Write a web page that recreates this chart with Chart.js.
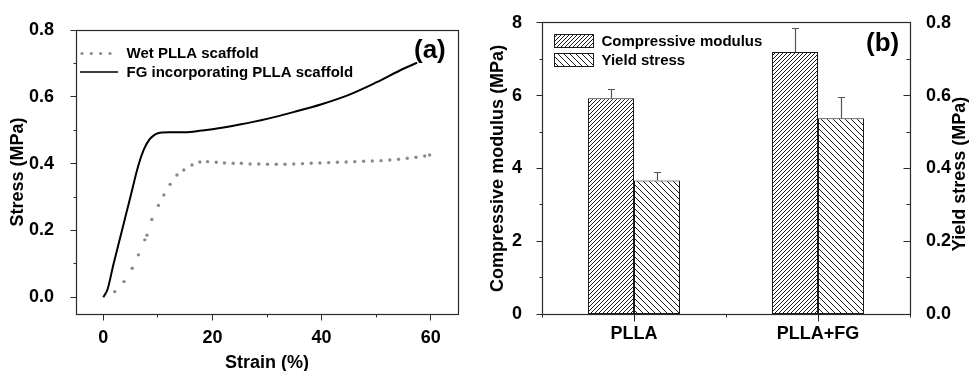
<!DOCTYPE html>
<html><head><meta charset="utf-8">
<script src="https://cdn.jsdelivr.net/npm/chart.js@4.4.1/dist/chart.umd.min.js"></script>
<style>
html,body{margin:0;padding:0;background:#fff;width:969px;height:371px;overflow:hidden}
canvas{position:absolute;top:0}
#ca{left:0}
#cb{left:480px}
</style></head><body>
<canvas id="ca" width="480" height="371"></canvas>
<canvas id="cb" width="489" height="371"></canvas>
<script>
// ---------- Data: panel (a) stress-strain curves ----------
const fgStrain  = [0, 0.8, 1.77, 3.3, 4.83, 6.36, 7.4, 8.4, 9.2, 10, 12, 15, 18, 20, 25, 30, 35, 40, 45, 50, 55, 57.5];
const fgStress  = [0, 0.025, 0.092, 0.192, 0.291, 0.391, 0.441, 0.471, 0.484, 0.491, 0.494, 0.494, 0.499, 0.503, 0.517, 0.534, 0.555, 0.578, 0.606, 0.643, 0.684, 0.702];
const wetStrain = [2.1, 3.8, 5.3, 6.45, 7.6, 8.0, 8.9, 10.1, 11.1, 12.25, 13.5, 14.75, 16.25, 17.7, 19.1, 20.7, 22.2, 23.8, 25.3, 26.9, 28.5, 30.1, 31.7, 33.3, 34.9, 36.5, 38.1, 39.7, 41.3, 42.9, 44.5, 46.1, 47.7, 49.3, 50.9, 52.5, 54.1, 55.7, 57.3, 58.9, 59.8];
const wetStress = [0.017, 0.047, 0.087, 0.127, 0.172, 0.186, 0.233, 0.275, 0.306, 0.338, 0.366, 0.381, 0.396, 0.405, 0.406, 0.404, 0.402, 0.401, 0.401, 0.399, 0.399, 0.398, 0.398, 0.398, 0.399, 0.400, 0.401, 0.402, 0.403, 0.404, 0.405, 0.406, 0.407, 0.408, 0.409, 0.411, 0.413, 0.416, 0.419, 0.423, 0.426];
const strainTicks = [0, 20, 40, 60];
const strainMinor = [10, 30, 50];
const stressTicks = [0, 0.2, 0.4, 0.6, 0.8];
const stressMinor = [0.1, 0.3, 0.5, 0.7];

// ---------- Data: panel (b) bars ----------
const groups      = ['PLLA', 'PLLA+FG'];
const modulus     = [5.93, 7.20];
const modulusErr  = [0.23, 0.63];
const yieldStress = [0.367, 0.538];
const yieldErr    = [0.022, 0.056];
const modulusTicks = [0, 2, 4, 6, 8];
const modulusMinor = [1, 3, 5, 7];
const yieldTicks   = [0, 0.2, 0.4, 0.6, 0.8];
const yieldMinor   = [0.1, 0.3, 0.5, 0.7];

const FONT = '"Liberation Sans", Arial, Helvetica, sans-serif';
const AXIS = '#2a2a2a';
Chart.defaults.font.family = FONT;
Chart.defaults.font.weight = 'bold';
Chart.defaults.color = '#000';

function snap(v){ return Math.round(v - 0.5) + 0.5; }

function hatch(ctx, size, dir) {
  const c = document.createElement('canvas');
  c.width = c.height = size;
  const g = c.getContext('2d');
  g.fillStyle = '#fff'; g.fillRect(0, 0, size, size);
  g.strokeStyle = '#1a1a1a'; g.lineWidth = 1;
  g.beginPath();
  if (dir > 0) {
    g.moveTo(0, size); g.lineTo(size, 0);
    g.moveTo(-1, 1); g.lineTo(1, -1);
    g.moveTo(size - 1, size + 1); g.lineTo(size + 1, size - 1);
  } else {
    g.moveTo(0, 0); g.lineTo(size, size);
    g.moveTo(-1, size - 1); g.lineTo(1, size + 1);
    g.moveTo(size - 1, -1); g.lineTo(size + 1, 1);
  }
  g.stroke();
  return ctx.createPattern(c, 'repeat');
}

// draws frame and major/minor tick marks from scale values
function frameTicks(specs) {
  return {
    id: 'frameTicks',
    afterDraw(chart) {
      const {ctx, chartArea: a} = chart;
      ctx.save();
      ctx.strokeStyle = AXIS; ctx.lineWidth = 1.2;
      const L = snap(a.left), R = snap(a.right), T = snap(a.top), B = snap(a.bottom);
      ctx.strokeRect(L, T, R - L, B - T);
      ctx.lineWidth = 1;
      specs.forEach(s => {
        const sc = chart.scales[s.scale];
        s.values.forEach(v => {
          const p = snap(sc.getPixelForValue(v));
          ctx.beginPath();
          if (s.side === 'left')  { ctx.moveTo(L, p); ctx.lineTo(L + s.dir * s.len, p); }
          if (s.side === 'right') { ctx.moveTo(R, p); ctx.lineTo(R + s.dir * s.len, p); }
          if (s.side === 'bottom'){ ctx.moveTo(p, B); ctx.lineTo(p, B + s.dir * s.len); }
          ctx.stroke();
        });
      });
      ctx.restore();
    }
  };
}

// ---------- Chart (a) ----------
const ctxA = document.getElementById('ca').getContext('2d');
const legendA = {
  id: 'legendA',
  afterDraw(chart) {
    const ctx = chart.ctx;
    ctx.save();
    ctx.fillStyle = '#8a8a8a';
    [82, 91.3, 100.6, 110].forEach(x => { ctx.beginPath(); ctx.arc(x, 53.5, 1.6, 0, Math.PI * 2); ctx.fill(); });
    ctx.strokeStyle = '#000'; ctx.lineWidth = 1.4;
    ctx.beginPath(); ctx.moveTo(80, 72); ctx.lineTo(118, 72); ctx.stroke();
    ctx.fillStyle = '#000';
    ctx.font = 'bold 15px ' + FONT;
    ctx.textAlign = 'left'; ctx.textBaseline = 'middle';
    ctx.fillText('Wet PLLA scaffold', 126.5, 54);
    ctx.fillText('FG incorporating PLLA scaffold', 126.5, 73);
    ctx.font = 'bold 26px ' + FONT;
    ctx.fillText('(a)', 414, 51);
    ctx.restore();
  }
};

new Chart(ctxA, {
  type: 'scatter',
  data: {
    datasets: [
      {
        label: 'FG incorporating PLLA scaffold',
        data: fgStrain.map((x, i) => ({x, y: fgStress[i]})),
        showLine: true, borderColor: '#000', borderWidth: 2, pointRadius: 0,
        cubicInterpolationMode: 'monotone', fill: false
      },
      {
        label: 'Wet PLLA scaffold',
        data: wetStrain.map((x, i) => ({x, y: wetStress[i]})),
        showLine: false, pointRadius: 1.7, pointBackgroundColor: '#8a8a8a',
        pointBorderWidth: 0, backgroundColor: '#8a8a8a'
      }
    ]
  },
  options: {
    responsive: false, animation: false, devicePixelRatio: 1,
    layout: {padding: {top: 30, right: 22, left: 0, bottom: 0}},
    plugins: {legend: {display: false}, tooltip: {enabled: false}},
    scales: {
      x: {
        type: 'linear', min: -5, max: 65,
        afterBuildTicks(s) { s.ticks = strainTicks.map(v => ({value: v})); },
        afterFit(s) { s.height = 57; },
        grid: {display: false}, border: {display: false},
        ticks: {padding: 5.5, maxRotation: 0, autoSkip: false, font: {size: 18, weight: 'bold'}, color: '#000', callback: v => String(v)},
        title: {display: true, text: 'Strain (%)', font: {size: 18, weight: 'bold'}, color: '#000', padding: {top: 0, bottom: -3}}
      },
      y: {
        type: 'linear', min: -0.05, max: 0.8,
        afterBuildTicks(s) { s.ticks = stressTicks.map(v => ({value: v})); },
        afterFit(s) { s.width = 76; },
        grid: {display: false}, border: {display: false},
        ticks: {padding: 14, autoSkip: false, font: {size: 18, weight: 'bold'}, color: '#000', callback: v => v.toFixed(1)},
        title: {display: true, text: 'Stress (MPa)', font: {size: 18, weight: 'bold'}, color: '#000', padding: {top: 7, bottom: 0}}
      }
    }
  },
  plugins: [
    frameTicks([
      {scale: 'y', side: 'left', dir: -1, len: 6, values: stressTicks},
      {scale: 'y', side: 'left', dir: -1, len: 3, values: stressMinor},
      {scale: 'x', side: 'bottom', dir: 1, len: 6, values: strainTicks},
      {scale: 'x', side: 'bottom', dir: 1, len: 3, values: strainMinor}
    ]),
    legendA
  ]
});

// ---------- Chart (b) ----------
const ctxB = document.getElementById('cb').getContext('2d');
const patMod = hatch(ctxB, 4, 1);
const patYld = hatch(ctxB, 6, -1);

const errorBars = {
  id: 'errorBars',
  afterDatasetsDraw(chart) {
    const ctx = chart.ctx;
    const errs = [modulusErr, yieldErr];
    const vals = [modulus, yieldStress];
    ctx.save();
    ctx.strokeStyle = '#555'; ctx.lineWidth = 1.2;
    chart.data.datasets.forEach((ds, i) => {
      const meta = chart.getDatasetMeta(i);
      const sc = chart.scales[ds.yAxisID];
      meta.data.forEach((el, j) => {
        const x = snap(el.x);
        const yTop = el.y;
        const yE = snap(sc.getPixelForValue(vals[i][j] + errs[i][j]));
        ctx.beginPath();
        ctx.moveTo(x, yTop); ctx.lineTo(x, yE);
        ctx.moveTo(x - 3.5, yE); ctx.lineTo(x + 3.5, yE);
        ctx.stroke();
      });
    });
    ctx.restore();
  }
};

const legendB = {
  id: 'legendB',
  afterDraw(chart) {
    const ctx = chart.ctx;
    ctx.save();
    ctx.lineWidth = 1; ctx.strokeStyle = '#1a1a1a';
    ctx.fillStyle = patMod; ctx.fillRect(74, 34.5, 39, 13); ctx.strokeRect(74.5, 34.5, 39, 13);
    ctx.fillStyle = patYld; ctx.fillRect(74, 53.5, 39, 13); ctx.strokeRect(74.5, 53.5, 39, 13);
    ctx.fillStyle = '#000';
    ctx.font = 'bold 15px ' + FONT;
    ctx.textAlign = 'left'; ctx.textBaseline = 'middle';
    ctx.fillText('Compressive modulus', 121.5, 41.5);
    ctx.fillText('Yield stress', 121.5, 61);
    ctx.font = 'bold 26px ' + FONT;
    ctx.fillText('(b)', 386, 44);
    // right axis title, reading bottom-to-top
    ctx.font = 'bold 18px ' + FONT;
    ctx.translate(480, 174);
    ctx.rotate(-Math.PI / 2);
    ctx.textAlign = 'center';
    ctx.fillText('Yield stress (MPa)', 0, 0);
    ctx.restore();
  }
};

new Chart(ctxB, {
  type: 'bar',
  data: {
    labels: groups,
    datasets: [
      {label: 'Compressive modulus', data: modulus, yAxisID: 'y', backgroundColor: patMod,
       borderColor: '#1a1a1a', borderWidth: 1, borderSkipped: false, categoryPercentage: 0.5, barPercentage: 1},
      {label: 'Yield stress', data: yieldStress, yAxisID: 'y1', backgroundColor: patYld,
       borderColor: '#1a1a1a', borderWidth: 1, borderSkipped: false, categoryPercentage: 0.5, barPercentage: 1}
    ]
  },
  options: {
    responsive: false, animation: false, devicePixelRatio: 1,
    layout: {padding: {top: 21.5, right: 0, left: 0, bottom: 0}},
    plugins: {legend: {display: false}, tooltip: {enabled: false}},
    scales: {
      x: {
        type: 'category', offset: true,
        afterFit(s) { s.height = 57; },
        grid: {display: false}, border: {display: false},
        ticks: {padding: 1, maxRotation: 0, autoSkip: false, font: {size: 18, weight: 'bold'}, color: '#000'}
      },
      y: {
        position: 'left', min: 0, max: 8,
        afterBuildTicks(s) { s.ticks = modulusTicks.map(v => ({value: v})); },
        afterFit(s) { s.width = 62; },
        grid: {display: false}, border: {display: false},
        ticks: {padding: 12, autoSkip: false, font: {size: 18, weight: 'bold'}, color: '#000', callback: v => String(v)},
        title: {display: true, text: 'Compressive modulus (MPa)', font: {size: 18, weight: 'bold'}, color: '#000', padding: {top: 7.5, bottom: 0}}
      },
      y1: {
        position: 'right', min: 0, max: 0.8,
        afterBuildTicks(s) { s.ticks = yieldTicks.map(v => ({value: v})); },
        afterFit(s) { s.width = 59; },
        grid: {display: false}, border: {display: false},
        ticks: {padding: 8, autoSkip: false, font: {size: 18, weight: 'bold'}, color: '#000', callback: v => v.toFixed(1)}
      }
    }
  },
  plugins: [
    errorBars,
    frameTicks([
      {scale: 'y', side: 'left', dir: -1, len: 6, values: modulusTicks},
      {scale: 'y', side: 'left', dir: -1, len: 3, values: modulusMinor},
      {scale: 'y1', side: 'right', dir: -1, len: 7, values: yieldTicks},
      {scale: 'y1', side: 'right', dir: -1, len: 4, values: yieldMinor},
      {scale: 'x', side: 'bottom', dir: 1, len: 7, values: [0, 1]},
      {scale: 'x', side: 'bottom', dir: 1, len: 3, values: [-0.5, 0.5, 1.5]}
    ]),
    legendB
  ]
});
</script>
</body></html>
